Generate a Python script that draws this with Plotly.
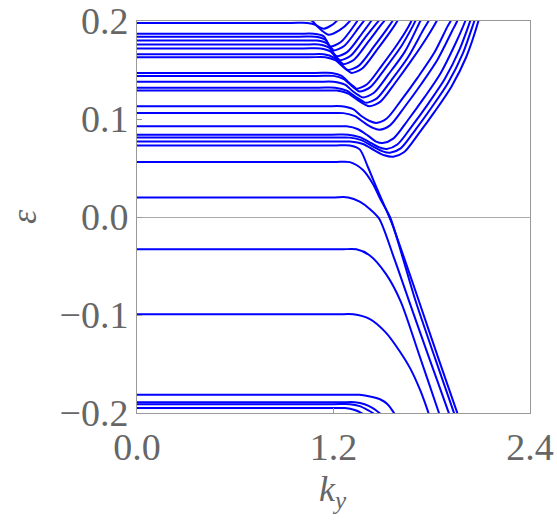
import plotly.graph_objects as go

# ---------------- data ----------------
# each band: (k_y values, energy values) key points
x_ticks = [0.0, 1.2, 2.4]
x_tick_text = ["0.0", "1.2", "2.4"]
y_ticks = [-0.2, -0.1, 0.0, 0.1, 0.2]
y_tick_text = ["\u22120.2", "\u22120.1", "0.0", "0.1", "0.2"]
x_title = "<i>k</i><sub><i>y</i></sub>"
y_title = "<i>\u03b5</i>"

# bands near the bottom edge (bend downwards)
bottom_bands = [
    ([0, 1.26, 1.36, 1.43, 1.49, 1.53, 1.57, 1.61], [-0.1815, -0.1815, -0.1815, -0.1835, -0.1865, -0.191, -0.200, -0.210]),
    ([0, 1.24, 1.33, 1.39, 1.44, 1.48, 1.52], [-0.189, -0.189, -0.189, -0.191, -0.195, -0.200, -0.207]),
    ([0, 1.20, 1.30, 1.36, 1.41, 1.44, 1.48], [-0.191, -0.191, -0.191, -0.193, -0.197, -0.200, -0.206]),
    ([0, 1.17, 1.27, 1.33, 1.37, 1.41], [-0.195, -0.195, -0.195, -0.197, -0.200, -0.205]),
]

# bands that bend down and cross the gap
steep_bands = [
    ([0, 1.22, 1.32, 1.42, 1.52, 1.60, 1.67, 1.73, 1.77, 1.79],
     [-0.0993, -0.0993, -0.0993, -0.104, -0.118, -0.136, -0.155, -0.177, -0.195, -0.205]),
    ([0, 1.24, 1.34, 1.42, 1.52, 1.61, 1.72, 1.84, 1.86],
     [-0.033, -0.033, -0.033, -0.039, -0.058, -0.086, -0.139, -0.198, -0.208]),
    ([0, 1.19, 1.29, 1.36, 1.43, 1.48, 1.57, 1.66, 1.78, 1.90, 1.92],
     [0.020, 0.020, 0.020, 0.0156, 0.007, -0.002, -0.042, -0.085, -0.142, -0.198, -0.208]),
    ([0, 1.20, 1.30, 1.38, 1.44, 1.49, 1.545, 1.62, 1.70, 1.82, 1.93, 1.95],
     [0.056, 0.056, 0.056, 0.048, 0.034, 0.017, 0.0, -0.040, -0.085, -0.144, -0.197, -0.207]),
    ([0, 1.20, 1.30, 1.36, 1.41, 1.46, 1.52, 1.56, 1.64, 1.72, 1.84, 1.95, 1.97],
     [0.073, 0.073, 0.073, 0.069, 0.051, 0.031, 0.008, -0.008, -0.046, -0.085, -0.144, -0.197, -0.207]),
]

# bands that dip and then rise
upper_bands = [
    ([0, 1.20, 1.30, 1.38, 1.45, 1.51, 1.565, 1.63, 1.72, 1.82, 1.92, 2.01, 2.085, 2.10],
     [0.077, 0.077, 0.077, 0.0745, 0.068, 0.063, 0.0615, 0.066, 0.085, 0.108, 0.133, 0.163, 0.200, 0.210]),
    ([0, 1.20, 1.30, 1.37, 1.44, 1.50, 1.545, 1.61, 1.70, 1.80, 1.90, 1.99, 2.06, 2.08],
     [0.081, 0.081, 0.081, 0.0785, 0.072, 0.067, 0.0655, 0.070, 0.089, 0.112, 0.137, 0.167, 0.200, 0.210]),
    ([0, 1.19, 1.29, 1.36, 1.43, 1.48, 1.525, 1.59, 1.68, 1.78, 1.88, 1.97, 2.035, 2.055],
     [0.084, 0.084, 0.084, 0.0815, 0.0755, 0.071, 0.0695, 0.074, 0.093, 0.116, 0.141, 0.171, 0.200, 0.210]),
    ([0, 1.18, 1.28, 1.35, 1.41, 1.46, 1.50, 1.565, 1.655, 1.755, 1.855, 1.945, 2.005, 2.025],
     [0.0925, 0.0925, 0.0925, 0.0895, 0.083, 0.077, 0.0755, 0.080, 0.099, 0.122, 0.147, 0.177, 0.200, 0.210]),
    ([0, 1.16, 1.26, 1.33, 1.39, 1.44, 1.48, 1.545, 1.635, 1.735, 1.835, 1.925, 1.955, 1.975],
     [0.106, 0.106, 0.106, 0.103, 0.096, 0.091, 0.089, 0.0935, 0.1125, 0.1355, 0.1605, 0.190, 0.200, 0.210]),
    ([0, 1.15, 1.25, 1.32, 1.37, 1.42, 1.46, 1.525, 1.615, 1.715, 1.815, 1.895, 1.915, 1.935],
     [0.113, 0.113, 0.113, 0.110, 0.103, 0.098, 0.096, 0.1005, 0.1195, 0.1425, 0.1675, 0.194, 0.200, 0.210]),
    ([0, 1.12, 1.22, 1.29, 1.35, 1.39, 1.42, 1.485, 1.575, 1.675, 1.775, 1.83, 1.85],
     [0.129, 0.129, 0.129, 0.126, 0.119, 0.115, 0.113, 0.1175, 0.1365, 0.1595, 0.1845, 0.200, 0.207]),
    ([0, 1.11, 1.21, 1.28, 1.34, 1.375, 1.40, 1.465, 1.555, 1.655, 1.745, 1.78, 1.80],
     [0.132, 0.132, 0.132, 0.129, 0.122, 0.1185, 0.1165, 0.121, 0.140, 0.163, 0.190, 0.200, 0.207]),
    ([0, 1.10, 1.20, 1.27, 1.32, 1.355, 1.38, 1.445, 1.535, 1.635, 1.71, 1.73, 1.75],
     [0.138, 0.138, 0.138, 0.135, 0.128, 0.124, 0.122, 0.1265, 0.1455, 0.1685, 0.193, 0.200, 0.207]),
    ([0, 1.10, 1.20, 1.26, 1.31, 1.34, 1.36, 1.425, 1.515, 1.615, 1.685, 1.70, 1.72],
     [0.144, 0.144, 0.144, 0.141, 0.134, 0.130, 0.128, 0.1325, 0.1515, 0.1745, 0.195, 0.200, 0.207]),
    ([0, 1.09, 1.19, 1.25, 1.295, 1.325, 1.34, 1.405, 1.495, 1.595, 1.66, 1.675, 1.69],
     [0.147, 0.147, 0.147, 0.144, 0.137, 0.133, 0.131, 0.1355, 0.1545, 0.1775, 0.195, 0.200, 0.207]),
    ([0, 1.05, 1.15, 1.21, 1.26, 1.29, 1.31, 1.375, 1.465, 1.565, 1.59, 1.61],
     [0.163, 0.163, 0.163, 0.160, 0.153, 0.149, 0.147, 0.1515, 0.1705, 0.1935, 0.200, 0.206]),
    ([0, 1.04, 1.14, 1.20, 1.245, 1.27, 1.29, 1.355, 1.445, 1.54, 1.56, 1.58],
     [0.166, 0.166, 0.166, 0.163, 0.156, 0.152, 0.150, 0.1545, 0.1735, 0.195, 0.200, 0.206]),
    ([0, 1.02, 1.12, 1.18, 1.22, 1.245, 1.26, 1.325, 1.415, 1.495, 1.51, 1.53],
     [0.172, 0.172, 0.172, 0.169, 0.162, 0.158, 0.156, 0.1605, 0.1795, 0.197, 0.200, 0.206]),
    ([0, 1.01, 1.11, 1.17, 1.205, 1.225, 1.24, 1.305, 1.395, 1.465, 1.475, 1.495],
     [0.176, 0.176, 0.176, 0.173, 0.166, 0.162, 0.160, 0.1645, 0.1835, 0.198, 0.200, 0.206]),
    ([0, 1.00, 1.10, 1.16, 1.19, 1.205, 1.22, 1.285, 1.375, 1.43, 1.45],
     [0.180, 0.180, 0.180, 0.177, 0.170, 0.166, 0.164, 0.1685, 0.1875, 0.200, 0.206]),
    ([0, 0.99, 1.09, 1.15, 1.175, 1.19, 1.20, 1.265, 1.355, 1.385, 1.405],
     [0.184, 0.184, 0.184, 0.181, 0.175, 0.172, 0.170, 0.1745, 0.1935, 0.200, 0.206]),
    ([0, 0.98, 1.08, 1.14, 1.16, 1.17, 1.18, 1.245, 1.335, 1.345, 1.365],
     [0.187, 0.187, 0.187, 0.1845, 0.179, 0.176, 0.174, 0.1785, 0.1975, 0.200, 0.206]),
    ([0, 0.94, 1.04, 1.09, 1.13, 1.155, 1.17, 1.235, 1.30, 1.32],
     [0.198, 0.198, 0.198, 0.196, 0.190, 0.187, 0.186, 0.1905, 0.200, 0.206]),
    ([0, 0.92, 1.02, 1.07, 1.10, 1.125, 1.14, 1.20, 1.23],
     [0.204, 0.204, 0.204, 0.200, 0.195, 0.193, 0.192, 0.197, 0.202]),
]

BLUE = "#0000ff"
GRAY_LINE = "#999999"
GRAY_TEXT = "#666666"
FONT = "Liberation Serif"

fig = go.Figure()
for k_vals, e_vals in bottom_bands + steep_bands + upper_bands:
    fig.add_trace(go.Scatter(
        x=k_vals, y=e_vals, mode="lines",
        line=dict(color=BLUE, width=2, shape="spline", smoothing=0.8),
        hoverinfo="skip", showlegend=False,
    ))

fig.update_layout(
    width=557, height=523,
    margin=dict(l=137, r=27, t=21, b=110),
    plot_bgcolor="white", paper_bgcolor="white",
    showlegend=False,
)
fig.update_xaxes(
    range=[0, 2.4], tickvals=x_ticks, ticktext=x_tick_text,
    ticks="inside", ticklen=5, tickcolor=GRAY_LINE, tickwidth=1,
    showline=True, linecolor=GRAY_LINE, linewidth=1, mirror=True,
    showgrid=False, zeroline=False, automargin=False,
    tickfont=dict(family=FONT, size=38, color=GRAY_TEXT),
)
fig.update_yaxes(
    range=[-0.2, 0.2], tickvals=y_ticks, ticktext=y_tick_text,
    ticks="inside", ticklen=5, tickcolor=GRAY_LINE, tickwidth=1,
    showline=True, linecolor=GRAY_LINE, linewidth=1, mirror=True,
    showgrid=False, zeroline=True, zerolinecolor="#aaaaaa", zerolinewidth=1,
    automargin=False,
    tickfont=dict(family=FONT, size=38, color=GRAY_TEXT),
)

fig.add_annotation(
    text=x_title, xref="paper", yref="paper", x=0.4987, y=-0.2,
    xanchor="center", yanchor="middle", showarrow=False,
    font=dict(family=FONT, size=36, color=GRAY_TEXT),
)
fig.add_annotation(
    text=y_title, xref="paper", yref="paper", x=-0.2875, y=0.5,
    xanchor="center", yanchor="middle", textangle=-90, showarrow=False,
    font=dict(family=FONT, size=36, color=GRAY_TEXT),
)

fig.write_html("out.html")
